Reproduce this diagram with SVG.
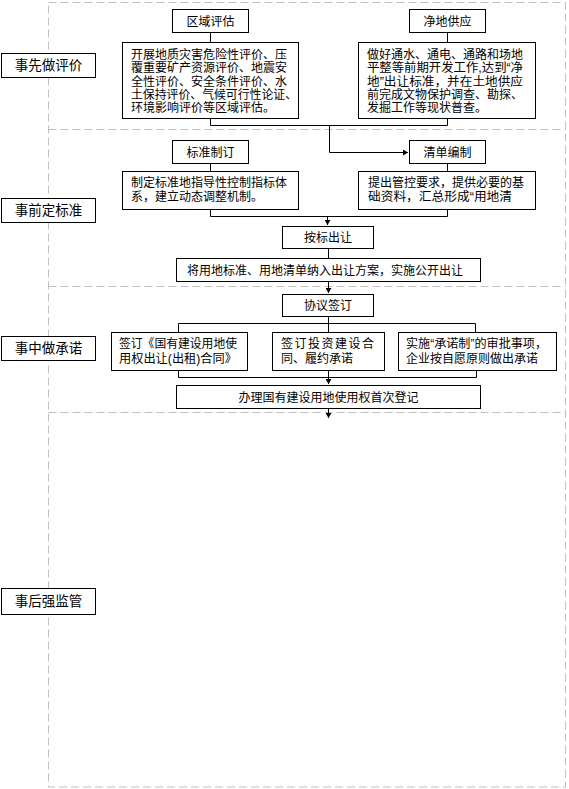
<svg xmlns="http://www.w3.org/2000/svg" width="569" height="789" viewBox="0 0 569 789">
<style>
.dash{fill:none;stroke:#c0c0c0;stroke-width:1;stroke-dasharray:8 4}
.box{fill:#fff;stroke:#000;stroke-width:1}
.t{font-family:"Liberation Sans","Noto Sans CJK SC",sans-serif;font-size:12px;fill:#000}
.lab{font-family:"Liberation Sans","Noto Sans CJK SC",sans-serif;font-size:13.5px;fill:#000;text-anchor:middle}
.c{text-anchor:middle}
.ln{fill:none;stroke:#000;stroke-width:1}
</style>
<defs>
<marker id="ah" markerUnits="userSpaceOnUse" markerWidth="6" markerHeight="6" refX="5" refY="3" orient="auto">
<path d="M0,0 L5,3 L0,6 Z" fill="#000"/>
</marker>
</defs>
<g id="frame">
<rect class="dash" x="48.5" y="2.5" width="517" height="784.5"/>
<line class="dash" x1="48.5" y1="129.5" x2="565.5" y2="129.5"/>
<line class="dash" x1="48.5" y1="286.5" x2="565.5" y2="286.5"/>
<line class="dash" x1="48.5" y1="412.5" x2="565.5" y2="412.5"/>
</g>
<g id="connectors">
<line class="ln" x1="210.5" y1="32" x2="210.5" y2="42"/>
<line class="ln" x1="447.5" y1="32" x2="447.5" y2="42"/>
<path class="ln" d="M210.5,118 V125.5 H447.5 V118"/>
<path class="ln" d="M329.5,125.5 V152.5 H408" marker-end="url(#ah)"/>
<line class="ln" x1="210.5" y1="163" x2="210.5" y2="171"/>
<line class="ln" x1="447.5" y1="163" x2="447.5" y2="171"/>
<path class="ln" d="M210.5,209 V216.5 H447.5 V209"/>
<path class="ln" d="M327.5,216.5 V225" marker-end="url(#ah)"/>
<line class="ln" x1="328.5" y1="248" x2="328.5" y2="258"/>
<path class="ln" d="M328.5,281 V293" marker-end="url(#ah)"/>
<line class="ln" x1="328.5" y1="316" x2="328.5" y2="332"/>
<path class="ln" d="M178.5,332 V323.5 H475.5 V332"/>
<path class="ln" d="M178.5,370 V377.5 H476.5 V370"/>
<path class="ln" d="M328.5,370 V384" marker-end="url(#ah)"/>
<path class="ln" d="M328.5,408 V418" marker-end="url(#ah)"/>
</g>
<g id="label1"><rect class="box" x="1.5" y="53.5" width="94" height="24"/><text class="lab" x="48.5" y="70">事先做评价</text></g>
<g id="label2"><rect class="box" x="1.5" y="198.5" width="94" height="24"/><text class="lab" x="48.5" y="215">事前定标准</text></g>
<g id="label3"><rect class="box" x="1.5" y="336.5" width="94" height="24"/><text class="lab" x="48.5" y="353">事中做承诺</text></g>
<g id="label4"><rect class="box" x="1.5" y="588.5" width="94" height="26"/><text class="lab" x="48.5" y="606">事后强监管</text></g>
<g id="quyu"><rect class="box" x="172.5" y="9.5" width="76" height="23"/><text class="t c" x="210.5" y="25.5">区域评估</text></g>
<g id="jingdi"><rect class="box" x="409.5" y="9.5" width="76" height="23"/><text class="t c" x="447.5" y="25.5">净地供应</text></g>
<g id="quyu-text"><rect class="box" x="122.5" y="42.5" width="176" height="76"/>
<text class="t" x="131" y="58.8">开展地质灾害危险性评价、压</text>
<text class="t" x="131" y="72.2">覆重要矿产资源评价、地震安</text>
<text class="t" x="131" y="85.6">全性评价、安全条件评价、水</text>
<text class="t" x="131" y="99" textLength="166" lengthAdjust="spacingAndGlyphs">土保持评价、气候可行性论证、</text>
<text class="t" x="131" y="112.4">环境影响评价等区域评估。</text>
</g>
<g id="jingdi-text"><rect class="box" x="358.5" y="42.5" width="177" height="76"/>
<text class="t" x="367" y="58.8">做好通水、通电、通路和场地</text>
<text class="t" x="367" y="72.2" textLength="156" lengthAdjust="spacingAndGlyphs">平整等前期开发工作,达到“净</text>
<text class="t" x="367" y="85.6" textLength="156" lengthAdjust="spacingAndGlyphs">地”出让标准，并在土地供应</text>
<text class="t" x="367" y="99">前完成文物保护调查、勘探、</text>
<text class="t" x="367" y="112.4">发掘工作等现状普查。</text>
</g>
<g id="biaozhun"><rect class="box" x="172.5" y="140.5" width="76" height="23"/><text class="t c" x="210.5" y="156.5">标准制订</text></g>
<g id="qingdan"><rect class="box" x="409.5" y="140.5" width="76" height="23"/><text class="t c" x="447.5" y="156.5">清单编制</text></g>
<g id="biaozhun-text"><rect class="box" x="122.5" y="171.5" width="176" height="38"/>
<text class="t" x="131" y="186.5">制定标准地指导性控制指标体</text>
<text class="t" x="131" y="200.5">系，建立动态调整机制。</text>
</g>
<g id="qingdan-text"><rect class="box" x="358.5" y="171.5" width="177" height="38"/>
<text class="t" x="368" y="186.5">提出管控要求，提供必要的基</text>
<text class="t" x="368" y="200.5" textLength="144" lengthAdjust="spacingAndGlyphs">础资料，汇总形成“用地清</text>
</g>
<g id="anbiao"><rect class="box" x="282.5" y="226.5" width="91" height="22"/><text class="t c" x="328" y="242">按标出让</text></g>
<g id="churang"><rect class="box" x="176.5" y="258.5" width="304" height="23"/><text class="t" x="187" y="274.5">将用地标准、用地清单纳入出让方案，实施公开出让</text></g>
<g id="xieyi"><rect class="box" x="282.5" y="294.5" width="91" height="22"/><text class="t c" x="328" y="310">协议签订</text></g>
<g id="hetong"><rect class="box" x="111.5" y="332.5" width="136" height="38"/>
<text class="t" x="119" y="347.5" textLength="118" lengthAdjust="spacingAndGlyphs">签订《国有建设用地使</text>
<text class="t" x="119" y="363" textLength="118" lengthAdjust="spacingAndGlyphs">用权出让(出租)合同》</text>
</g>
<g id="touzi"><rect class="box" x="272.5" y="332.5" width="112" height="38"/>
<text class="t" x="281" y="347.5" textLength="93" lengthAdjust="spacing">签订投资建设合</text>
<text class="t" x="281" y="363">同、履约承诺</text>
</g>
<g id="chengnuo"><rect class="box" x="398.5" y="332.5" width="158" height="38"/>
<text class="t" x="406" y="347.5" textLength="141" lengthAdjust="spacingAndGlyphs">实施“承诺制”的审批事项，</text>
<text class="t" x="406" y="363">企业按自愿原则做出承诺</text>
</g>
<g id="dengji"><rect class="box" x="176.5" y="385.5" width="304" height="23"/><text class="t c" x="328.5" y="401.5">办理国有建设用地使用权首次登记</text></g>
</svg>
